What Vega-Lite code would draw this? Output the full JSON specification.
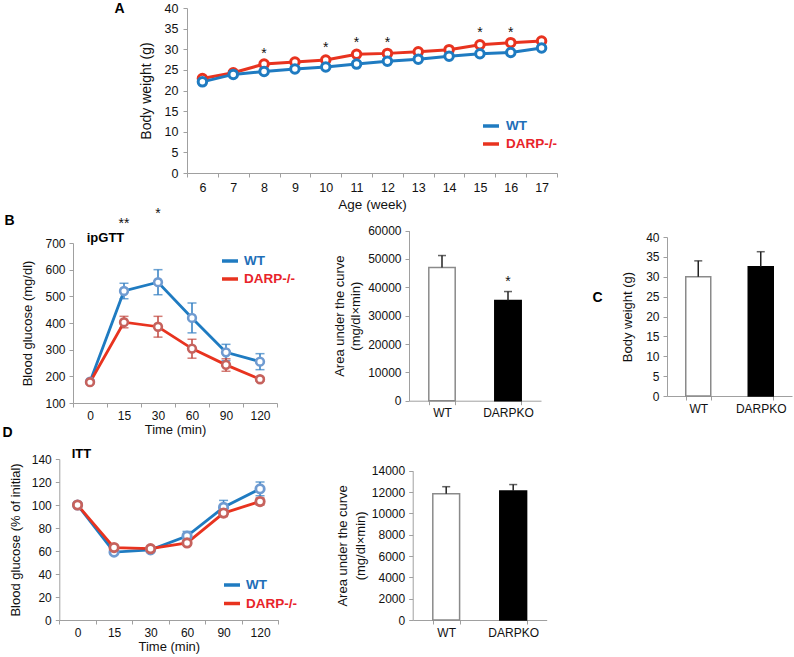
{
  "$schema": "https://vega.github.io/schema/vega-lite/v6.json",
  "width": 794,
  "height": 657,
  "autosize": {"type": "none"},
  "padding": 0,
  "background": "white",
  "datasets": {
    "growth": [
      {"week": "6", "group": "DARP-/-", "weight": 22.9},
      {"week": "7", "group": "DARP-/-", "weight": 24.3},
      {"week": "8", "group": "DARP-/-", "weight": 26.4},
      {"week": "9", "group": "DARP-/-", "weight": 26.9},
      {"week": "10", "group": "DARP-/-", "weight": 27.4},
      {"week": "11", "group": "DARP-/-", "weight": 28.8},
      {"week": "12", "group": "DARP-/-", "weight": 29.0},
      {"week": "13", "group": "DARP-/-", "weight": 29.4},
      {"week": "14", "group": "DARP-/-", "weight": 29.9},
      {"week": "15", "group": "DARP-/-", "weight": 31.1},
      {"week": "16", "group": "DARP-/-", "weight": 31.6},
      {"week": "17", "group": "DARP-/-", "weight": 32.0},
      {"week": "6", "group": "WT", "weight": 22.1},
      {"week": "7", "group": "WT", "weight": 23.9},
      {"week": "8", "group": "WT", "weight": 24.6},
      {"week": "9", "group": "WT", "weight": 25.2},
      {"week": "10", "group": "WT", "weight": 25.7},
      {"week": "11", "group": "WT", "weight": 26.4},
      {"week": "12", "group": "WT", "weight": 27.1},
      {"week": "13", "group": "WT", "weight": 27.6},
      {"week": "14", "group": "WT", "weight": 28.3},
      {"week": "15", "group": "WT", "weight": 28.9},
      {"week": "16", "group": "WT", "weight": 29.2},
      {"week": "17", "group": "WT", "weight": 30.3}
    ],
    "growthStars": [
      {"week": "8", "y": 29.8, "label": "*"},
      {"week": "10", "y": 31.2, "label": "*"},
      {"week": "11", "y": 32.6, "label": "*"},
      {"week": "12", "y": 32.6, "label": "*"},
      {"week": "15", "y": 34.8, "label": "*"},
      {"week": "16", "y": 34.8, "label": "*"}
    ],
    "gtt": [
      {"time": "0", "group": "WT", "glucose": 180, "lo": 180, "hi": 180},
      {"time": "15", "group": "WT", "glucose": 520, "lo": 491, "hi": 549},
      {"time": "30", "group": "WT", "glucose": 553, "lo": 506, "hi": 600},
      {"time": "60", "group": "WT", "glucose": 419, "lo": 363, "hi": 475},
      {"time": "90", "group": "WT", "glucose": 290, "lo": 259, "hi": 320},
      {"time": "120", "group": "WT", "glucose": 255, "lo": 225, "hi": 285},
      {"time": "0", "group": "DARP-/-", "glucose": 178, "lo": 178, "hi": 178},
      {"time": "15", "group": "DARP-/-", "glucose": 403, "lo": 382, "hi": 425},
      {"time": "30", "group": "DARP-/-", "glucose": 386, "lo": 347, "hi": 425},
      {"time": "60", "group": "DARP-/-", "glucose": 304, "lo": 268, "hi": 339},
      {"time": "90", "group": "DARP-/-", "glucose": 243, "lo": 219, "hi": 266},
      {"time": "120", "group": "DARP-/-", "glucose": 189, "lo": 182, "hi": 196}
    ],
    "gttStars": [
      {"time": "15", "y": 786, "label": "**"},
      {"time": "30", "y": 824, "label": "*"}
    ],
    "gttAuc": [
      {"group": "WT", "auc": 47000, "hi": 51200},
      {"group": "DARPKO", "auc": 35300, "hi": 38500}
    ],
    "gttAucStars": [
      {"group": "DARPKO", "y": 43300, "label": "*"}
    ],
    "bw": [
      {"group": "WT", "weight": 30.0, "hi": 34.0},
      {"group": "DARPKO", "weight": 32.5, "hi": 36.3}
    ],
    "itt": [
      {"time": "0", "group": "WT", "glucose": 100, "lo": 100, "hi": 100},
      {"time": "15", "group": "WT", "glucose": 59, "lo": 57, "hi": 61},
      {"time": "30", "group": "WT", "glucose": 61, "lo": 59, "hi": 63},
      {"time": "60", "group": "WT", "glucose": 73, "lo": 70, "hi": 77},
      {"time": "90", "group": "WT", "glucose": 98, "lo": 92, "hi": 104},
      {"time": "120", "group": "WT", "glucose": 114, "lo": 108, "hi": 120},
      {"time": "0", "group": "DARP-/-", "glucose": 100, "lo": 100, "hi": 100},
      {"time": "15", "group": "DARP-/-", "glucose": 63, "lo": 61, "hi": 65},
      {"time": "30", "group": "DARP-/-", "glucose": 62, "lo": 60, "hi": 64},
      {"time": "60", "group": "DARP-/-", "glucose": 67, "lo": 65, "hi": 69},
      {"time": "90", "group": "DARP-/-", "glucose": 93, "lo": 90, "hi": 96},
      {"time": "120", "group": "DARP-/-", "glucose": 103, "lo": 100, "hi": 106}
    ],
    "ittAuc": [
      {"group": "WT", "auc": 11850, "hi": 12500},
      {"group": "DARPKO", "auc": 12100, "hi": 12700}
    ]
  },
  "layer": [
    {
      "data": {"name": "growth"},
      "layer": [
        {
          "mark": {"type": "line", "strokeWidth": 3},
          "encoding": {
            "x": {"field": "week", "type": "ordinal",
              "scale": {"type": "band", "domain": ["6","7","8","9","10","11","12","13","14","15","16","17"], "range": [187, 557], "paddingInner": 0, "paddingOuter": 0},
              "axis": {"orient": "bottom", "offset": -484, "tickBand": "extent", "labelAngle": 0, "title": "Age (week)", "labelPadding": 4, "titlePadding": 4, "labelFontSize": 12.5, "titleFontSize": 13.5}},
            "y": {"field": "weight", "type": "quantitative",
              "scale": {"domain": [0, 40], "range": [173, 8], "nice": false, "zero": false},
              "axis": {"orient": "left", "offset": -187, "values": [0,5,10,15,20,25,30,35,40], "title": "Body weight (g)", "labelPadding": 5, "titlePadding": 11, "labelFontSize": 12.5, "titleFontSize": 14}},
            "color": {"field": "group", "type": "nominal",
              "scale": {"domain": ["WT", "DARP-/-"], "range": ["#1f7bc1", "#e8331f"]},
              "legend": {"orient": "none", "legendX": 481, "legendY": 116, "title": null, "symbolType": "stroke", "symbolSize": 256, "symbolStrokeWidth": 3.5, "labelFontSize": 13.5, "labelFontWeight": "bold", "labelColor": {"expr": "datum.label == 'WT' ? '#1f6fb8' : '#e8232a'"}, "labelOffset": 5, "rowPadding": 1, "padding": 0}}
          }
        },
        {
          "mark": {"type": "point", "shape": "circle", "filled": false, "fill": "white", "size": 72, "strokeWidth": 3, "opacity": 1},
          "encoding": {
            "x": {"field": "week", "type": "ordinal", "axis": null},
            "y": {"field": "weight", "type": "quantitative", "axis": null},
            "stroke": {"field": "group", "type": "nominal", "scale": {"domain": ["WT", "DARP-/-"], "range": ["#1f7bc1", "#e8331f"]}, "legend": null}
          }
        },
        {
          "data": {"name": "growthStars"},
          "mark": {"type": "text", "fontSize": 14, "baseline": "alphabetic", "dy": 8, "color": "#111"},
          "encoding": {
            "x": {"field": "week", "type": "ordinal",
              "axis": {"orient": "top", "offset": 0, "position": 0, "domain": false, "ticks": false, "labels": false, "title": "A", "titleX": 119, "titleY": 8, "titleAngle": 0, "titleAlign": "center", "titleBaseline": "middle", "titleFontSize": 14, "titleFontWeight": "bold", "titleColor": "#000"}},
            "y": {"field": "y", "type": "quantitative", "axis": null},
            "text": {"field": "label"}
          }
        }
      ],
      "resolve": {"axis": {"x": "independent", "y": "independent"}}
    },
    {
      "data": {"name": "gtt"},
      "layer": [
        {
          "mark": {"type": "line", "strokeWidth": 2.8},
          "encoding": {
            "x": {"field": "time", "type": "ordinal",
              "scale": {"type": "band", "domain": ["0","15","30","60","90","120"], "range": [73, 277], "paddingInner": 0, "paddingOuter": 0},
              "axis": {"orient": "bottom", "offset": -254, "tickBand": "extent", "labelAngle": 0, "title": "Time (min)", "labelPadding": 3, "titlePadding": 2}},
            "y": {"field": "glucose", "type": "quantitative",
              "scale": {"domain": [100, 700], "range": [403, 243], "nice": false, "zero": false},
              "axis": {"orient": "left", "offset": -73, "values": [100,200,300,400,500,600,700], "title": "Blood glucose (mg/dl)", "labelPadding": 4, "titlePadding": 10}},
            "color": {"field": "group", "type": "nominal",
              "scale": {"domain": ["WT", "DARP-/-"], "range": ["#1f7bc1", "#e8331f"]},
              "legend": {"orient": "none", "legendX": 220, "legendY": 251, "title": null, "symbolType": "stroke", "symbolSize": 256, "symbolStrokeWidth": 3.5, "labelFontSize": 13.5, "labelFontWeight": "bold", "labelColor": {"expr": "datum.label == 'WT' ? '#1f6fb8' : '#e8232a'"}, "labelOffset": 4, "rowPadding": 1, "padding": 0}}
          }
        },
        {
          "transform": [{"filter": "datum.group == 'WT'"}],
          "mark": {"type": "errorbar", "color": "#2f7cc0", "thickness": 1.5, "ticks": {"size": 9, "thickness": 1.5}},
          "encoding": {
            "x": {"field": "time", "type": "ordinal", "axis": null},
            "y": {"field": "lo", "type": "quantitative", "axis": null},
            "y2": {"field": "hi"}
          }
        },
        {
          "transform": [{"filter": "datum.group == 'DARP-/-'"}],
          "mark": {"type": "errorbar", "color": "#c0453c", "thickness": 1.5, "ticks": {"size": 9, "thickness": 1.5}},
          "encoding": {
            "x": {"field": "time", "type": "ordinal", "axis": null},
            "y": {"field": "lo", "type": "quantitative", "axis": null},
            "y2": {"field": "hi"}
          }
        },
        {
          "mark": {"type": "point", "shape": "circle", "filled": false, "fill": "white", "size": 60, "strokeWidth": 2.6, "opacity": 1},
          "encoding": {
            "x": {"field": "time", "type": "ordinal",
              "axis": {"orient": "top", "offset": 0, "position": 0, "domain": false, "ticks": false, "labels": false, "title": "B", "titleX": 9, "titleY": 220, "titleAngle": 0, "titleAlign": "center", "titleBaseline": "middle", "titleFontSize": 14, "titleFontWeight": "bold", "titleColor": "#000"}},
            "y": {"field": "glucose", "type": "quantitative", "axis": null},
            "stroke": {"field": "group", "type": "nominal", "scale": {"domain": ["WT", "DARP-/-"], "range": ["#6f9bd1", "#c6625d"]}, "legend": null}
          }
        },
        {
          "data": {"name": "gttStars"},
          "mark": {"type": "text", "fontSize": 14, "baseline": "alphabetic", "dy": 8, "color": "#111"},
          "encoding": {
            "x": {"field": "time", "type": "ordinal",
              "axis": {"orient": "top", "offset": 0, "position": 0, "domain": false, "ticks": false, "labels": false, "title": "ipGTT", "titleX": 105, "titleY": 237, "titleAngle": 0, "titleAlign": "center", "titleBaseline": "middle", "titleFontSize": 13, "titleFontWeight": "bold", "titleColor": "#000"}},
            "y": {"field": "y", "type": "quantitative", "axis": null},
            "text": {"field": "label"}
          }
        }
      ],
      "resolve": {"axis": {"x": "independent", "y": "independent"}}
    },
    {
      "data": {"name": "gttAuc"},
      "layer": [
        {
          "mark": {"type": "bar", "strokeWidth": 1.5},
          "encoding": {
            "x": {"field": "group", "type": "nominal",
              "scale": {"type": "band", "domain": ["WT", "DARPKO"], "range": [409, 541], "paddingInner": 0.6, "paddingOuter": 0.3},
              "axis": {"orient": "bottom", "offset": -256.3, "tickBand": "extent", "labelAngle": 0, "title": null, "labelPadding": 3}},
            "y": {"field": "auc", "type": "quantitative",
              "scale": {"domain": [0, 60000], "range": [400.7, 230.6], "nice": false, "zero": false},
              "axis": {"orient": "left", "offset": -409, "values": [0,10000,20000,30000,40000,50000,60000], "format": "d", "title": ["Area under the curve", "(mg/dl×min)"], "titleLineHeight": 16, "labelPadding": 4, "titlePadding": 5}},
            "fill": {"field": "group", "type": "nominal", "scale": {"domain": ["WT", "DARPKO"], "range": ["#ffffff", "#000000"]}, "legend": null},
            "stroke": {"field": "group", "type": "nominal", "scale": {"domain": ["WT", "DARPKO"], "range": ["#8a8a8a", "#000000"]}, "legend": null}
          }
        },
        {
          "mark": {"type": "rule", "color": "#222", "strokeWidth": 1.5},
          "encoding": {
            "x": {"field": "group", "type": "nominal", "axis": null},
            "y": {"field": "auc", "type": "quantitative", "axis": null},
            "y2": {"field": "hi"}
          }
        },
        {
          "mark": {"type": "tick", "color": "#222", "thickness": 1.5, "size": 8, "orient": "horizontal"},
          "encoding": {
            "x": {"field": "group", "type": "nominal", "axis": null},
            "y": {"field": "hi", "type": "quantitative", "axis": null}
          }
        },
        {
          "data": {"name": "gttAucStars"},
          "mark": {"type": "text", "fontSize": 14, "baseline": "alphabetic", "dy": 8, "color": "#111"},
          "encoding": {
            "x": {"field": "group", "type": "nominal", "axis": null},
            "y": {"field": "y", "type": "quantitative", "axis": null},
            "text": {"field": "label"}
          }
        }
      ],
      "resolve": {"axis": {"x": "independent", "y": "independent"}}
    },
    {
      "data": {"name": "bw"},
      "layer": [
        {
          "mark": {"type": "bar", "strokeWidth": 1.5},
          "encoding": {
            "x": {"field": "group", "type": "nominal",
              "scale": {"type": "band", "domain": ["WT", "DARPKO"], "range": [667, 792], "paddingInner": 0.6, "paddingOuter": 0.3},
              "axis": {"orient": "bottom", "offset": -261, "tickBand": "extent", "labelAngle": 0, "title": null, "labelPadding": 3}},
            "y": {"field": "weight", "type": "quantitative",
              "scale": {"domain": [0, 40], "range": [396, 237], "nice": false, "zero": false},
              "axis": {"orient": "left", "offset": -667, "values": [0,5,10,15,20,25,30,35,40], "title": "Body weight (g)", "labelPadding": 4, "titlePadding": 11}},
            "fill": {"field": "group", "type": "nominal", "scale": {"domain": ["WT", "DARPKO"], "range": ["#ffffff", "#000000"]}, "legend": null},
            "stroke": {"field": "group", "type": "nominal", "scale": {"domain": ["WT", "DARPKO"], "range": ["#8a8a8a", "#000000"]}, "legend": null}
          }
        },
        {
          "mark": {"type": "rule", "color": "#222", "strokeWidth": 1.5},
          "encoding": {
            "x": {"field": "group", "type": "nominal", "axis": null},
            "y": {"field": "weight", "type": "quantitative", "axis": null},
            "y2": {"field": "hi"}
          }
        },
        {
          "mark": {"type": "tick", "color": "#222", "thickness": 1.5, "size": 8, "orient": "horizontal"},
          "encoding": {
            "x": {"field": "group", "type": "nominal",
              "axis": {"orient": "top", "offset": 0, "position": 0, "domain": false, "ticks": false, "labels": false, "title": "C", "titleX": 597, "titleY": 297, "titleAngle": 0, "titleAlign": "center", "titleBaseline": "middle", "titleFontSize": 14, "titleFontWeight": "bold", "titleColor": "#000"}},
            "y": {"field": "hi", "type": "quantitative", "axis": null}
          }
        }
      ],
      "resolve": {"axis": {"x": "independent", "y": "independent"}}
    },
    {
      "data": {"name": "itt"},
      "layer": [
        {
          "mark": {"type": "line", "strokeWidth": 2.8},
          "encoding": {
            "x": {"field": "time", "type": "ordinal",
              "scale": {"type": "band", "domain": ["0","15","30","60","90","120"], "range": [59.3, 278.3], "paddingInner": 0, "paddingOuter": 0},
              "axis": {"orient": "bottom", "offset": -37, "tickBand": "extent", "labelAngle": 0, "title": "Time (min)", "labelPadding": 3, "titlePadding": 2}},
            "y": {"field": "glucose", "type": "quantitative",
              "scale": {"domain": [0, 140], "range": [620, 459], "nice": false, "zero": false},
              "axis": {"orient": "left", "offset": -59.3, "values": [0,20,40,60,80,100,120,140], "title": "Blood glucose (% of initial)", "labelPadding": 4, "titlePadding": 9}},
            "color": {"field": "group", "type": "nominal",
              "scale": {"domain": ["WT", "DARP-/-"], "range": ["#1f7bc1", "#e8331f"]},
              "legend": {"orient": "none", "legendX": 222, "legendY": 575, "title": null, "symbolType": "stroke", "symbolSize": 256, "symbolStrokeWidth": 3.5, "labelFontSize": 13.5, "labelFontWeight": "bold", "labelColor": {"expr": "datum.label == 'WT' ? '#1f6fb8' : '#e8232a'"}, "labelOffset": 4, "rowPadding": 1.5, "padding": 0}}
          }
        },
        {
          "transform": [{"filter": "datum.group == 'WT'"}],
          "mark": {"type": "errorbar", "color": "#2f7cc0", "thickness": 1.5, "ticks": {"size": 9, "thickness": 1.5}},
          "encoding": {
            "x": {"field": "time", "type": "ordinal", "axis": null},
            "y": {"field": "lo", "type": "quantitative", "axis": null},
            "y2": {"field": "hi"}
          }
        },
        {
          "transform": [{"filter": "datum.group == 'DARP-/-'"}],
          "mark": {"type": "errorbar", "color": "#c0453c", "thickness": 1.5, "ticks": {"size": 9, "thickness": 1.5}},
          "encoding": {
            "x": {"field": "time", "type": "ordinal", "axis": null},
            "y": {"field": "lo", "type": "quantitative", "axis": null},
            "y2": {"field": "hi"}
          }
        },
        {
          "mark": {"type": "point", "shape": "circle", "filled": false, "fill": "white", "size": 70, "strokeWidth": 2.8, "opacity": 1},
          "encoding": {
            "x": {"field": "time", "type": "ordinal",
              "axis": {"orient": "top", "offset": 0, "position": 0, "domain": false, "ticks": false, "labels": false, "title": "D", "titleX": 7, "titleY": 432, "titleAngle": 0, "titleAlign": "center", "titleBaseline": "middle", "titleFontSize": 14, "titleFontWeight": "bold", "titleColor": "#000"}},
            "y": {"field": "glucose", "type": "quantitative",
              "axis": {"orient": "right", "offset": 0, "position": 0, "domain": false, "ticks": false, "labels": false, "title": "ITT", "titleX": -713, "titleY": 453, "titleAngle": 0, "titleAlign": "center", "titleBaseline": "middle", "titleFontSize": 13, "titleFontWeight": "bold", "titleColor": "#000"}},
            "stroke": {"field": "group", "type": "nominal", "scale": {"domain": ["WT", "DARP-/-"], "range": ["#6f9bd1", "#c6625d"]}, "legend": null}
          }
        }
      ],
      "resolve": {"axis": {"x": "independent", "y": "independent"}}
    },
    {
      "data": {"name": "ittAuc"},
      "layer": [
        {
          "mark": {"type": "bar", "strokeWidth": 1.5},
          "encoding": {
            "x": {"field": "group", "type": "nominal",
              "scale": {"type": "band", "domain": ["WT", "DARPKO"], "range": [412.7, 546.7], "paddingInner": 0.6, "paddingOuter": 0.3},
              "axis": {"orient": "bottom", "offset": -37, "tickBand": "extent", "labelAngle": 0, "title": null, "labelPadding": 3}},
            "y": {"field": "auc", "type": "quantitative",
              "scale": {"domain": [0, 14000], "range": [620, 470.7], "nice": false, "zero": false},
              "axis": {"orient": "left", "offset": -412.7, "values": [0,2000,4000,6000,8000,10000,12000,14000], "format": "d", "title": ["Area under the curve", "(mg/dl×min)"], "titleLineHeight": 18, "labelPadding": 4, "titlePadding": 4}},
            "fill": {"field": "group", "type": "nominal", "scale": {"domain": ["WT", "DARPKO"], "range": ["#ffffff", "#000000"]}, "legend": null},
            "stroke": {"field": "group", "type": "nominal", "scale": {"domain": ["WT", "DARPKO"], "range": ["#8a8a8a", "#000000"]}, "legend": null}
          }
        },
        {
          "mark": {"type": "rule", "color": "#222", "strokeWidth": 1.5},
          "encoding": {
            "x": {"field": "group", "type": "nominal", "axis": null},
            "y": {"field": "auc", "type": "quantitative", "axis": null},
            "y2": {"field": "hi"}
          }
        },
        {
          "mark": {"type": "tick", "color": "#222", "thickness": 1.5, "size": 8, "orient": "horizontal"},
          "encoding": {
            "x": {"field": "group", "type": "nominal", "axis": null},
            "y": {"field": "hi", "type": "quantitative", "axis": null}
          }
        }
      ],
      "resolve": {"axis": {"x": "independent", "y": "independent"}}
    }
  ],
  "resolve": {
    "scale": {"x": "independent", "y": "independent", "color": "independent", "stroke": "independent", "fill": "independent"},
    "axis": {"x": "independent", "y": "independent"},
    "legend": {"color": "independent", "stroke": "independent", "fill": "independent"}
  },
  "config": {
    "font": "Liberation Sans",
    "view": {"stroke": null},
    "axis": {"domainColor": "#a0a0a0", "tickColor": "#a0a0a0", "labelColor": "#111111", "titleColor": "#111111", "labelFontSize": 12, "titleFontSize": 13, "titleFontWeight": "normal", "grid": false, "tickSize": 4, "labelFont": "Liberation Sans", "titleFont": "Liberation Sans"},
    "legend": {"labelFont": "Liberation Sans"},
    "text": {"font": "Liberation Sans"}
  }
}
